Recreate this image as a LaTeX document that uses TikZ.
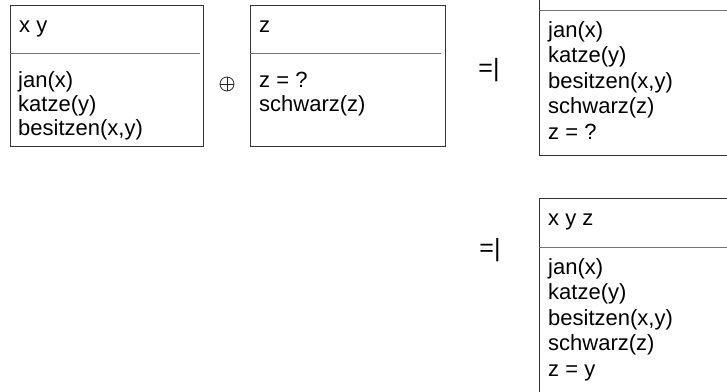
\documentclass[tikz,border=0pt]{standalone}
\usepackage{fontspec}
\setmainfont{Liberation Sans}
\usetikzlibrary{positioning}

\tikzset{
  frame/.style={draw=black!80, line width=1pt},
  divider/.style={draw=black!55, line width=1pt},
  drs/.style={anchor=base west, inner sep=0pt, font=\fontsize{22}{26}\selectfont},
  entails/.style={inner sep=0pt, font=\fontsize{25}{30}\selectfont},
}

\begin{document}
\begin{tikzpicture}[x=1pt,y=-1pt]
            \useasboundingbox (0,0) rectangle (727,391);
            \clip (0,0) rectangle (727,391);
            % first box
            \draw[frame] (10,5) rectangle (203,146);
            \draw[divider] (10,53)--(200,53);
            \node[drs] (univA) at (19,32) {x y};
            \foreach \t [count=\i] in {jan(x), katze(y), {besitzen(x,y)}}
                \node[drs] (condA\i) at (18,87+24*\i-24) {\t};
            % merge
            \node[circle, draw=black!85, line width=0.8pt, minimum size=14pt, inner sep=0pt] (merge) at (227,84) {};
            \draw[black!85, line width=0.8pt] (merge.north)--(merge.south) (merge.west)--(merge.east);
            % second box
            \draw[frame] (250,5) rectangle (445,146);
            \draw[divider] (250,53)--(441,53);
            \node[drs] (univB) at (259,32) {z};
            \foreach \t [count=\i] in {z = ?, schwarz(z)}
                \node[drs] (condB\i) at (259,87+24*\i-24) {\t};
            % result
            \node[entails] (eqA) at (489,70) {=|};
            \draw[frame] (539,-40) rectangle (760,155);
            \draw[divider] (539,10)--(760,10);
            \foreach \t [count=\i] in {jan(x), katze(y), {besitzen(x,y)}, schwarz(z), z = ?}
                \node[drs] (condC\i) at (548,37+25.5*\i-25.5) {\t};
            % resolved
            \node[entails] (eqB) at (490,250) {=|};
            \draw[frame] (539,198) rectangle (760,460);
            \draw[divider] (539,247)--(760,247);
            \node[drs] (univD) at (548,225) {x y z};
            \foreach \t [count=\i] in {jan(x), katze(y), {besitzen(x,y)}, schwarz(z), z = y}
                \node[drs] (condD\i) at (548,274+25.5*\i-25.5) {\t};
        \end{tikzpicture}
\end{document}
